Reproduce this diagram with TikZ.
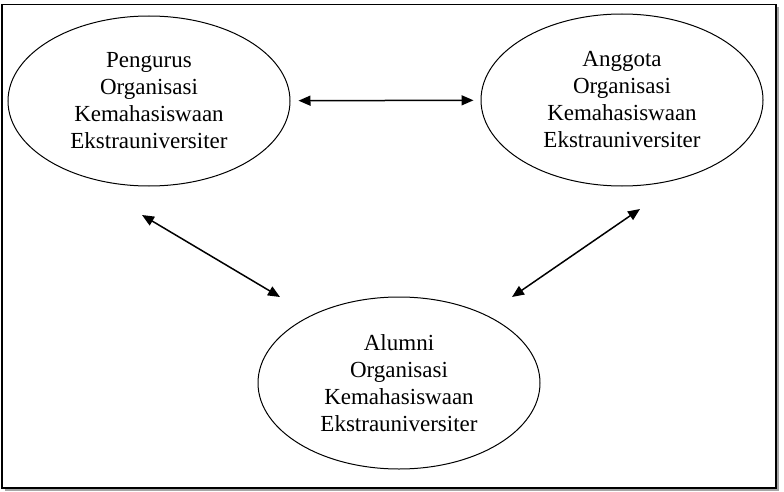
\documentclass[tikz,border=0pt]{standalone}
\usepackage{fontspec}
\setmainfont{Liberation Serif}
\usetikzlibrary{shapes.geometric, arrows.meta}

\tikzset{
  actor/.style={draw, ellipse, line width=1pt, inner sep=0pt,
    minimum width=282pt, align=center,
    font=\fontsize{23pt}{27pt}\selectfont},
  link/.style={{Triangle[length=12pt,width=10pt]}-{Triangle[length=12pt,width=10pt]}, line width=1.5pt}
}

\begin{document}
\begin{tikzpicture}[x=1pt,y=-1pt]
  \useasboundingbox (0,0) rectangle (784,492);
  \fill[black!35] (5,7.5) rectangle (779,491);
  \draw[line width=1.3pt, fill=white] (2,4.5) rectangle (776,488);

  \node[actor, minimum height=170pt] (pengurus) at (149,101) {Pengurus\\Organisasi\\Kemahasiswaan\\Ekstrauniversiter};
  \node[actor, minimum height=172pt] (anggota) at (622,100) {Anggota\\Organisasi\\Kemahasiswaan\\Ekstrauniversiter};
  \node[actor, minimum height=172pt] (alumni) at (399,383) {Alumni\\Organisasi\\Kemahasiswaan\\Ekstrauniversiter};

  \coordinate (pengurusend) at (142,215);
  \coordinate (alumnileft) at (280,297);
  \coordinate (anggotaend) at (640,209);
  \coordinate (alumniright) at (512,297);

  \draw[link, shorten <=8pt, shorten >=7pt] (pengurus) -- (anggota);
  \draw[link] (pengurusend) -- (alumnileft);
  \draw[link] (anggotaend) -- (alumniright);
\end{tikzpicture}
\end{document}
